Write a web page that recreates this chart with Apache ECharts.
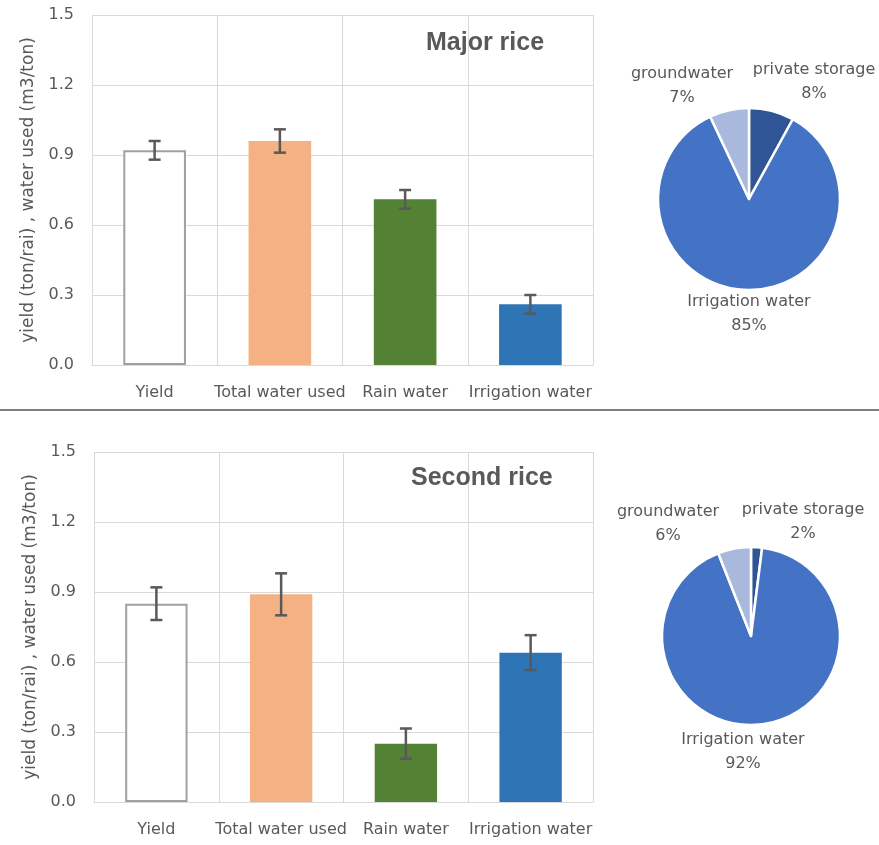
<!DOCTYPE html>
<html><head><meta charset="utf-8">
<script src="https://cdn.jsdelivr.net/npm/echarts@6/dist/echarts.min.js"></script>
<style>html,body{margin:0;padding:0;background:#fff}#c{width:879px;height:845px}</style>
</head><body><div id="c"></div>
<script>
var categories = ['Yield', 'Total water used', 'Rain water', 'Irrigation water'];
var majorValues = [0.92, 0.96, 0.71, 0.26];
var majorErrors = [0.04, 0.05, 0.04, 0.04];
var secondValues = [0.85, 0.89, 0.25, 0.64];
var secondErrors = [0.07, 0.09, 0.065, 0.075];
var yTicks = [0.0, 0.3, 0.6, 0.9, 1.2, 1.5];
var pieNames = ['private storage', 'Irrigation water', 'groundwater'];
var majorShares = [8, 85, 7];
var secondShares = [2, 92, 6];
var titles = ['Major rice', 'Second rice'];
var yName = 'yield (ton/rai) , water used (m3/ton)';

var barColors = ['#ffffff', '#F4B183', '#548235', '#2E75B6'];
var pieColors = ['#2F5597', '#4472C4', '#A9B9DE'];
var txt = '#595959', grid = '#d9d9d9', font = 'DejaVu Sans';
// label anchor positions (layout only)
var majorLabelPos = [[814, 82], [749, 314], [682, 86]];
var secondLabelPos = [[803, 522], [743, 752], [668, 524]];

function barData(vals) {
  return vals.map(function (v, i) {
    var s = { color: barColors[i] };
    if (i === 0) { s.borderColor = '#a0a0a0'; s.borderWidth = 2; }
    return { value: v, itemStyle: s };
  });
}
function errData(vals, errs) {
  return vals.map(function (v, i) { return [i, v - errs[i], v + errs[i]]; });
}
function renderErr(params, api) {
  var lo = api.coord([api.value(0), api.value(1)]);
  var hi = api.coord([api.value(0), api.value(2)]);
  var w = 6;
  var st = { stroke: '#595959', lineWidth: 2.5 };
  return { type: 'group', children: [
    { type: 'line', shape: { x1: hi[0], y1: hi[1], x2: lo[0], y2: lo[1] }, style: st },
    { type: 'line', shape: { x1: hi[0] - w, y1: hi[1], x2: hi[0] + w, y2: hi[1] }, style: st },
    { type: 'line', shape: { x1: lo[0] - w, y1: lo[1], x2: lo[0] + w, y2: lo[1] }, style: st }
  ]};
}
function xAxis(gi) {
  return { type: 'category', gridIndex: gi, data: categories, boundaryGap: true,
    axisTick: { show: false }, axisLine: { lineStyle: { color: grid } },
    axisLabel: { color: txt, fontSize: 16, fontFamily: font, margin: 20, interval: 0 },
    splitLine: { show: true, lineStyle: { color: grid } } };
}
function yAxis(gi) {
  return { type: 'value', gridIndex: gi, min: yTicks[0], max: yTicks[yTicks.length - 1], interval: 0.3,
    name: yName, nameLocation: 'middle', nameGap: 55, nameRotate: 90,
    nameTextStyle: { color: txt, fontSize: 17, fontFamily: font },
    axisLine: { show: false }, axisTick: { show: false },
    axisLabel: { color: txt, fontSize: 16, fontFamily: font, margin: 18, formatter: function (v) { return v.toFixed(1); } },
    splitLine: { lineStyle: { color: grid } } };
}
function pieData(shares) {
  return shares.map(function (v, i) { return { name: pieNames[i], value: v, itemStyle: { color: pieColors[i] } }; });
}
function pie(shares, center, r, pos) {
  return { type: 'pie', center: center, radius: [0, r], startAngle: 90, clockwise: true,
    data: pieData(shares), itemStyle: { borderColor: '#fff', borderWidth: 2.5 },
    label: { position: 'outside', color: txt, fontSize: 16, fontFamily: font, lineHeight: 24, align: 'center',
      overflow: 'none', width: 200, edgeDistance: 0, bleedMargin: 0,
      formatter: function (p) { return p.name + '\n' + p.value + '%'; } },
    labelLine: { show: false },
    labelLayout: function (p) { var q = pos[p.dataIndex]; return { x: q[0], y: q[1], align: 'center', verticalAlign: 'middle' }; },
    emphasis: { disabled: true } };
}

var chart = echarts.init(document.getElementById('c'));
chart.setOption({
  animation: false,
  title: [
    { text: titles[0], left: 421, top: 26, textStyle: { color: txt, fontSize: 25, fontWeight: 'bold', fontFamily: 'Liberation Sans' } },
    { text: titles[1], left: 406, top: 461, textStyle: { color: txt, fontSize: 25, fontWeight: 'bold', fontFamily: 'Liberation Sans' } }
  ],
  grid: [
    { left: 92, top: 15, width: 501, height: 350 },
    { left: 94, top: 452, width: 499, height: 350 }
  ],
  xAxis: [xAxis(0), xAxis(1)],
  yAxis: [yAxis(0), yAxis(1)],
  series: [
    { type: 'bar', xAxisIndex: 0, yAxisIndex: 0, barWidth: '50%', data: barData(majorValues) },
    { type: 'custom', xAxisIndex: 0, yAxisIndex: 0, renderItem: renderErr, data: errData(majorValues, majorErrors), z: 5 },
    { type: 'bar', xAxisIndex: 1, yAxisIndex: 1, barWidth: '50%', data: barData(secondValues) },
    { type: 'custom', xAxisIndex: 1, yAxisIndex: 1, renderItem: renderErr, data: errData(secondValues, secondErrors), z: 5 },
    pie(majorShares, [749, 199], 91, majorLabelPos),
    pie(secondShares, [751, 636], 89, secondLabelPos)
  ],
  graphic: [
    { type: 'line', shape: { x1: 0, y1: 410, x2: 879, y2: 410 }, style: { stroke: '#808080', lineWidth: 2 } }
  ]
});
</script></body></html>
